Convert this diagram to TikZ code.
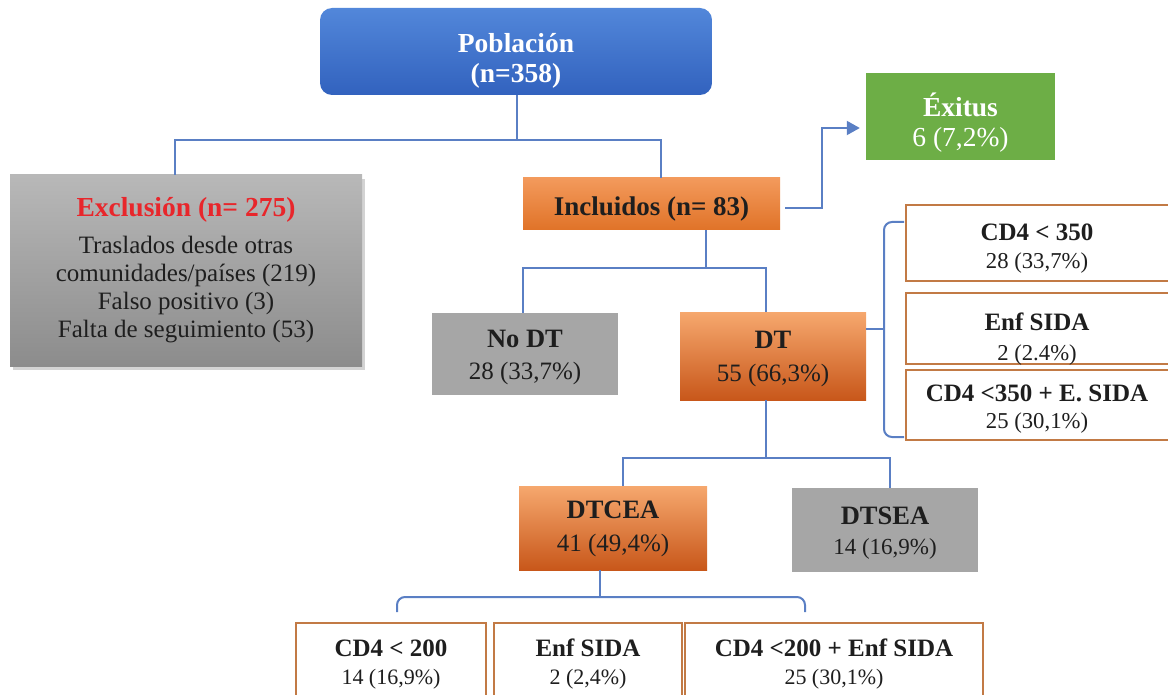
\documentclass[tikz,border=0pt]{standalone}
\usepackage{fontspec}
\setmainfont{Liberation Serif}
\usetikzlibrary{calc,arrows.meta,shadows}
\definecolor{lineblue}{HTML}{5A7FC4}
\definecolor{orangetop}{HTML}{F6A86E}
\definecolor{orangebot}{HTML}{C8571A}
\definecolor{incltop}{HTML}{F39A5C}
\definecolor{inclbot}{HTML}{E07328}
\definecolor{orangeline}{HTML}{C27A45}
\definecolor{graybox}{HTML}{A6A6A6}
\definecolor{graytop}{HTML}{B8B8B8}
\definecolor{graybot}{HTML}{8C8C8C}
\definecolor{bluetop}{HTML}{5287DA}
\definecolor{bluebot}{HTML}{3262BE}
\definecolor{greenbox}{HTML}{6DAE46}
\definecolor{textdark}{HTML}{1E1E1E}
\definecolor{exred}{HTML}{E8262B}
\begin{document}
\begin{tikzpicture}[x=1pt,y=-1pt,
  conn/.style={draw=lineblue, line width=2pt},
  base/.style={rectangle, inner sep=0pt},
  obox/.style={base, top color=orangetop, bottom color=orangebot, draw=none},
  gbox/.style={base, fill=graybox},
  wbox/.style={base, fill=white, draw=orangeline, line width=2pt},
  tx/.style={inner sep=0pt, align=center, text=textdark},
]
\useasboundingbox (0,0) rectangle (1168,695);

% ---- boxes ----
\node[base, rounded corners=12pt, top color=bluetop, bottom color=bluebot,
  minimum width=392pt, minimum height=87pt] (pob) at (516,51.5) {};
\node[base, top color=graytop, bottom color=graybot,
  drop shadow={shadow xshift=3pt, shadow yshift=-4pt, opacity=0.35},
  minimum width=352pt, minimum height=191pt] (excl) at (186,270.5) {};
\node[base, top color=incltop, bottom color=inclbot,
  minimum width=257pt, minimum height=52pt] (incl) at (651.5,204) {};
\node[base, fill=greenbox, minimum width=189pt, minimum height=87pt] (exit) at (960.5,116.5) {};
\node[gbox, minimum width=186pt, minimum height=82pt] (nodt) at (525,354) {};
\node[obox, minimum width=186pt, minimum height=88pt] (dt) at (773,356) {};
\node[wbox, minimum width=266pt, minimum height=76pt] (r1) at (1039,243) {};
\node[wbox, minimum width=266pt, minimum height=71pt] (r2) at (1039,328.5) {};
\node[obox, minimum width=188pt, minimum height=84pt] (dtcea) at (613,528) {};
\node[gbox, minimum width=186pt, minimum height=84pt] (dtsea) at (885,530) {};
\node[wbox, minimum width=190pt, minimum height=76pt] (b1) at (391,661) {};
\node[wbox, minimum width=188pt, minimum height=76pt] (b2) at (588,661) {};
\node[wbox, minimum width=298pt, minimum height=76pt] (b3) at (834,661) {};

% ---- texts ----
\node[tx, text=white, font=\fontsize{27.5}{30}\selectfont\bfseries] (pobT) at (516,60.5)
  {Población\\(n=358)};
\node[tx, font=\fontsize{25}{28}\selectfont] (exclT) at (186,270.5)
  {{\fontsize{27.5}{30}\selectfont\bfseries\color{exred}Exclusión (n= 275)}\\[9pt]
   Traslados desde otras\\ comunidades/países (219)\\ Falso positivo (3)\\ Falta de seguimiento (53)};
\node[tx, font=\fontsize{27}{30}\selectfont\bfseries] (inclT) at (651.5,209) {Incluidos (n= 83)};
\node[tx, text=white, font=\fontsize{27.5}{30}\selectfont] (exitT) at (960.5,122.5)
  {\textbf{Éxitus}\\6 (7,2\%)};
\node[tx, font=\fontsize{25}{32}\selectfont] (nodtT) at (525,357.5)
  {{\fontsize{26.5}{32}\selectfont\bfseries No DT}\\28 (33,7\%)};
\node[tx, font=\fontsize{25}{33}\selectfont] (dtT) at (773,359)
  {{\fontsize{26.5}{33}\selectfont\bfseries DT}\\55 (66,3\%)};
\node[tx, font=\fontsize{22.7}{28}\selectfont] (r1T) at (1037,248.5)
  {{\fontsize{25}{28}\selectfont\bfseries CD4 < 350}\\28 (33,7\%)};
\node[tx, font=\fontsize{22.7}{30}\selectfont] (r2T) at (1037,339)
  {{\fontsize{25}{30}\selectfont\bfseries Enf SIDA}\\2 (2.4\%)};
% third right box drawn after so it overlaps the text above, as in the reference
\node[wbox, minimum width=266pt, minimum height=70pt] (r3) at (1039,405) {};
\node[tx, font=\fontsize{22.7}{27}\selectfont] (r3T) at (1037,409)
  {{\fontsize{25}{27}\selectfont\bfseries CD4 <350 + E. SIDA}\\25 (30,1\%)};
\node[tx, font=\fontsize{25}{33}\selectfont] (dtceaT) at (613,529)
  {{\fontsize{26.5}{33}\selectfont\bfseries DTCEA}\\41 (49,4\%)};
\node[tx, font=\fontsize{23}{30}\selectfont] (dtseaT) at (885,533.5)
  {{\fontsize{26.5}{30}\selectfont\bfseries DTSEA}\\14 (16,9\%)};
\node[tx, font=\fontsize{22}{28}\selectfont] (b1T) at (391,664.5)
  {{\fontsize{25}{28}\selectfont\bfseries CD4 < 200}\\14 (16,9\%)};
\node[tx, font=\fontsize{22}{28}\selectfont] (b2T) at (588,664.5)
  {{\fontsize{25}{28}\selectfont\bfseries Enf SIDA}\\2 (2,4\%)};
\node[tx, font=\fontsize{22}{28}\selectfont] (b3T) at (834,664.5)
  {{\fontsize{25}{28}\selectfont\bfseries CD4 <200 + Enf SIDA}\\25 (30,1\%)};

% ---- connectors ----
\coordinate (j1) at (517,140);
\draw[conn] (pob.south -| j1) -- (j1);
\draw[conn] (j1) -| ($(excl.north)+(-11,0)$);
\draw[conn] (j1) -| ($(incl.north)+(9,0)$);

\coordinate (j2) at (706,268);
\draw[conn] (incl.south -| j2) -- (j2);
\draw[conn] (j2) -| ($(nodt.north)+(-2,0)$);
\draw[conn] (j2) -| ($(dt.north)+(-7,0)$);

\coordinate (j3) at (766,458);
\draw[conn] (dt.south -| j3) -- (j3);
\draw[conn] (j3) -| ($(dtcea.north)+(10,0)$);
\draw[conn] (j3) -| ($(dtsea.north)+(5,0)$);

% arrow to Exitus
\coordinate (a1) at (785,208);
\draw[conn, -{Triangle[length=13pt,width=14pt]}] (a1) -| (822,128) -- ($(exit.west)+(-6,11.5)$);

% right bracket
\coordinate (rb) at (884,329);
\draw[conn] (dt.east |- rb) -- (rb);
\draw[conn, rounded corners=8pt] ($(r1.west)+(-1,-21)$) -- (884,222) -- (884,437) -- ($(r3.west)+(-1,32)$);

% bottom bracket
\coordinate (bb) at (600,597);
\draw[conn] (dtcea.south -| bb) -- (bb);
\draw[conn, rounded corners=8pt] (397,612) -- (397,597) -- (805,597) -- (805,612);
\end{tikzpicture}
\end{document}
